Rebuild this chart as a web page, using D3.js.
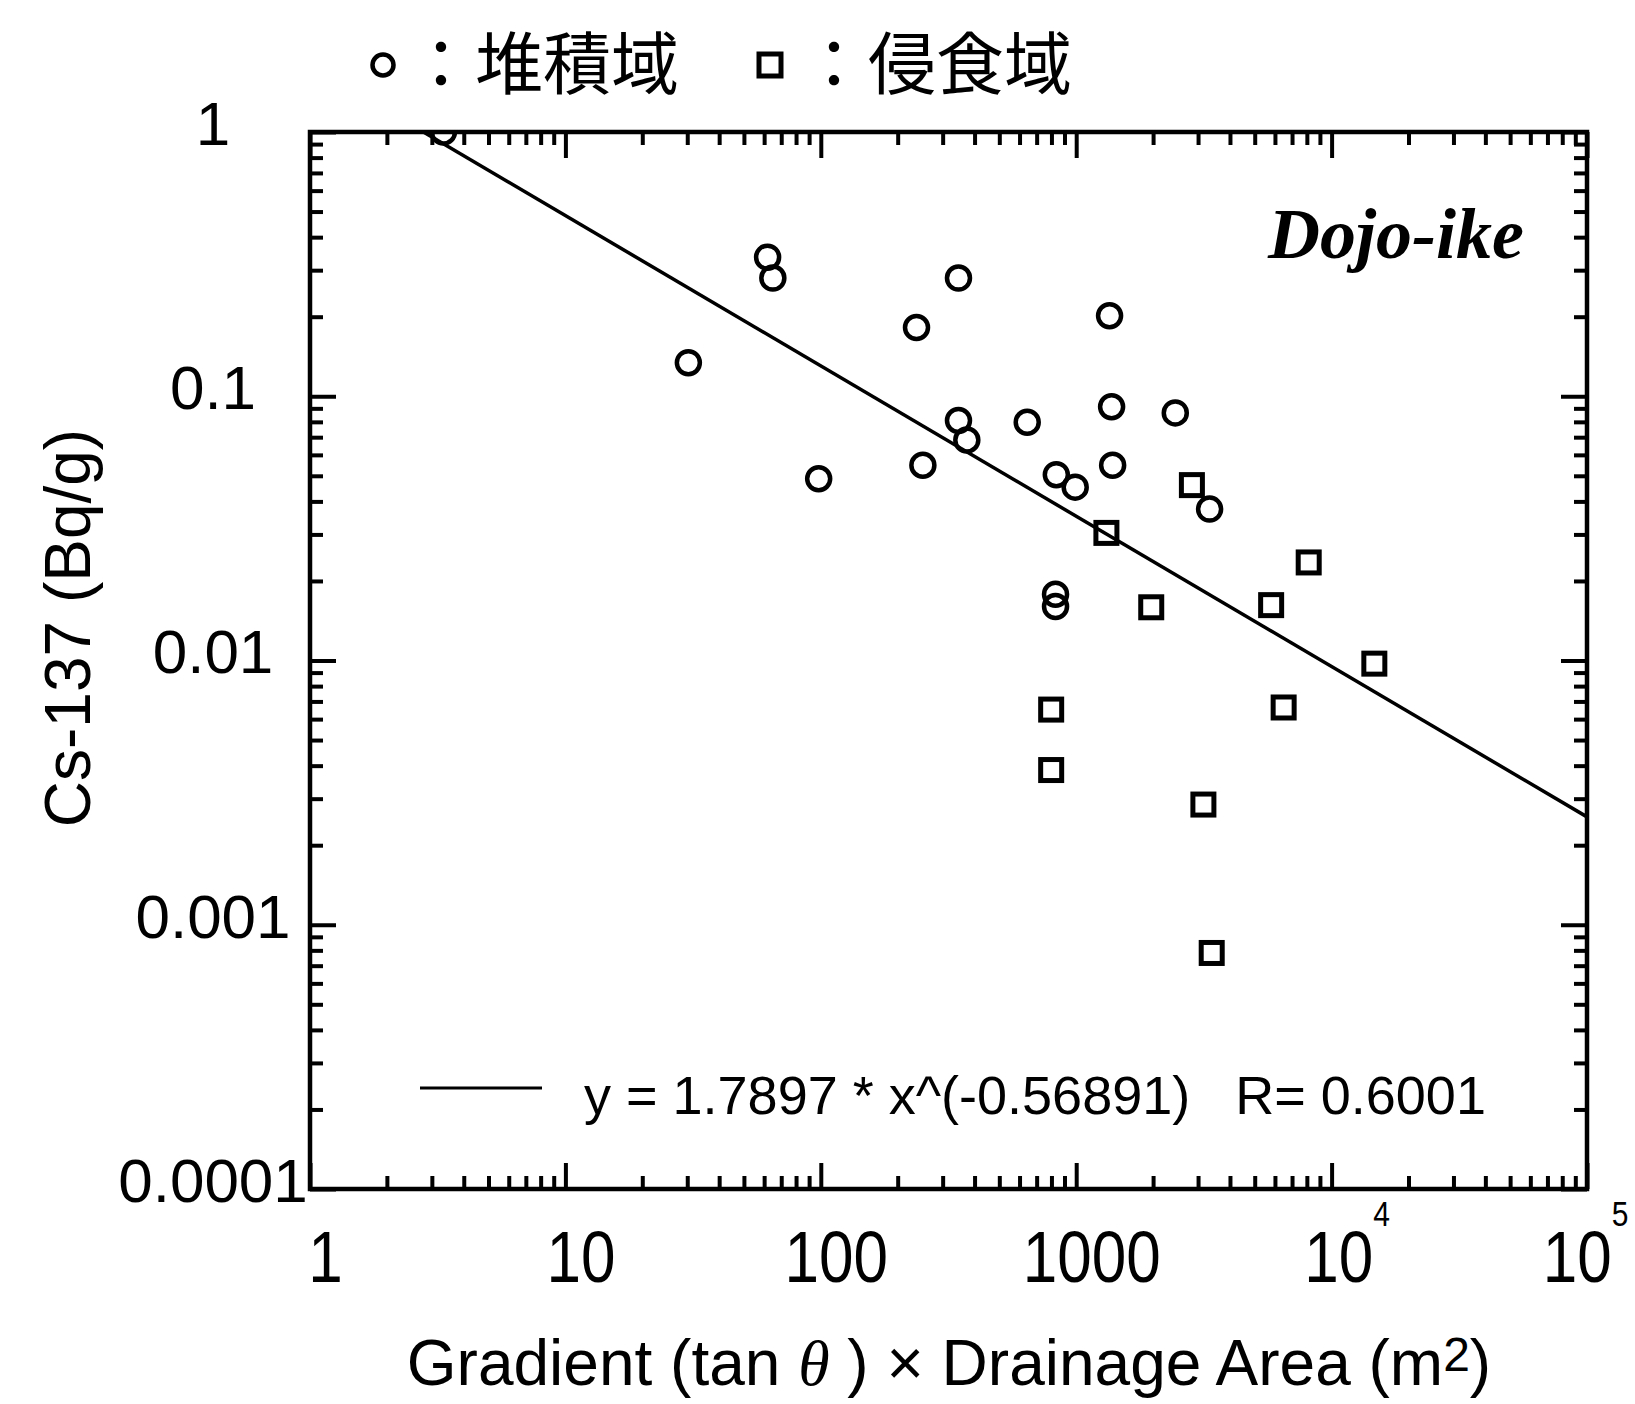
<!DOCTYPE html>
<html>
<head>
<meta charset="utf-8">
<script src="https://cdn.jsdelivr.net/npm/d3@7"></script>
<style>
  body { margin: 0; background: #fff; }
  svg { display: block; }
</style>
</head>
<body>
<div id="chart"></div>
<script>
// deposition sites (circles)
const depositX = [3.33, 30.3, 61.9, 64.9, 98.1, 237, 251, 346, 346, 373, 643, 836, 991, 1351, 1376, 1389, 2443, 3329, 830, 830];
const depositY = [1.0, 0.134, 0.336, 0.28, 0.0487, 0.182, 0.0548, 0.28, 0.081, 0.0683, 0.0797, 0.0505, 0.0453, 0.2016, 0.0913, 0.0548, 0.0865, 0.0374, 0.0178, 0.016];

// erosion sites (squares)
const erosionX = [1313, 2838, 1967, 8135, 5798, 14700, 798, 6490, 798, 3148, 3393];
const erosionY = [0.0304, 0.0461, 0.0159, 0.0235, 0.0162, 0.00973, 0.00652, 0.00664, 0.00385, 0.00285, 0.000782];

// regression line end points: y = 1.7897 * x^(-0.56891)
const fitX = [2.78, 100000];
const fitY = [1.0, 0.00256];

const xTickValues = [1, 10, 100, 1000, 10000, 100000];
const xTickLabels = ["1", "10", "100", "1000", "10^4", "10^5"];
const yTickValues = [0.0001, 0.001, 0.01, 0.1, 1];
const yTickLabels = ["0.0001", "0.001", "0.01", "0.1", "1"];

const legendLabels = ["：堆積域", "：侵食域"];
const fitLabel = "y = 1.7897 * x^(-0.56891)   R= 0.6001";
const siteLabel = "Dojo-ike";

const width = 1635;
const height = 1404;
const margin = { top: 132, right: 48, bottom: 215, left: 310 };
const sans = "'Liberation Sans', Arial, sans-serif";
const cjk = "'Noto Sans CJK JP', 'Noto Sans CJK SC', sans-serif";

const svg = d3.select("#chart")
  .append("svg")
  .attr("width", width)
  .attr("height", height)
  .style("background", "#fff");

const x = d3.scaleLog()
  .domain([1, 100000])
  .range([margin.left, width - margin.right]);

const y = d3.scaleLog()
  .domain([0.0001, 1])
  .range([height - margin.bottom, margin.top]);

const x0 = x.range()[0], x1 = x.range()[1];
const y0 = y.range()[1], y1 = y.range()[0];

svg.append("clipPath")
  .attr("id", "plot-clip")
  .append("rect")
  .attr("x", x0).attr("y", y0)
  .attr("width", x1 - x0).attr("height", y1 - y0);

// minor tick positions (2..9 in each decade)
const xMinor = x.ticks().filter(d => xTickValues.indexOf(d) < 0);
const yMinor = y.ticks().filter(d => !yTickValues.some(v => Math.abs(v - d) / d < 1e-6));

function styleTicks(g) {
  g.select(".domain").remove();
  g.selectAll(".tick line").attr("stroke", "#000").attr("stroke-width", 4);
}

const major = 26, minor = 13;

// bottom axis
svg.append("g")
  .attr("transform", `translate(0,${y1})`)
  .call(d3.axisBottom(x).tickValues(xMinor).tickSize(-minor).tickFormat(""))
  .call(styleTicks);

const xAxisG = svg.append("g")
  .attr("transform", `translate(0,${y1})`)
  .call(d3.axisBottom(x).tickValues(xTickValues).tickSize(-major).tickPadding(36).tickSizeOuter(0))
  .call(styleTicks);

xAxisG.selectAll(".tick text")
  .attr("font-family", sans)
  .attr("font-size", 62)
  .attr("fill", "#000")
  // last label sits at the page edge, keep it inside
  .attr("transform", (d, i) => `translate(${i === xTickValues.length - 1 ? -2 : 15},0) scale(1,1.16)`)
  .text(null)
  .each(function(d, i) {
    const parts = xTickLabels[i].split("^");
    const t = d3.select(this);
    t.append("tspan").text(parts[0]);
    if (parts[1]) {
      t.append("tspan")
        .attr("font-size", 30)
        .attr("dy", "-1.6em")
        .text(parts[1]);
    }
  });

// top axis
svg.append("g")
  .attr("transform", `translate(0,${y0})`)
  .call(d3.axisTop(x).tickValues(xMinor).tickSize(-minor).tickFormat(""))
  .call(styleTicks);
svg.append("g")
  .attr("transform", `translate(0,${y0})`)
  .call(d3.axisTop(x).tickValues(xTickValues).tickSize(-major).tickFormat(""))
  .call(styleTicks);

// left axis
svg.append("g")
  .attr("transform", `translate(${x0},0)`)
  .call(d3.axisLeft(y).tickValues(yMinor).tickSize(-minor).tickFormat(""))
  .call(styleTicks);

const yAxisG = svg.append("g")
  .attr("transform", `translate(${x0},0)`)
  .call(d3.axisLeft(y).tickValues(yTickValues).tickSize(-major)
    .tickFormat((d, i) => yTickLabels[i]))
  .call(styleTicks);

yAxisG.selectAll(".tick text")
  .attr("font-family", sans)
  .attr("font-size", 62)
  .attr("fill", "#000")
  .attr("text-anchor", "middle")
  .attr("x", -97)
  .attr("dy", "0.2em");

// right axis
svg.append("g")
  .attr("transform", `translate(${x1},0)`)
  .call(d3.axisRight(y).tickValues(yMinor).tickSize(-minor).tickFormat(""))
  .call(styleTicks);
svg.append("g")
  .attr("transform", `translate(${x1},0)`)
  .call(d3.axisRight(y).tickValues(yTickValues).tickSize(-major).tickFormat(""))
  .call(styleTicks);

// regression line
const fitLine = d3.line()
  .x(d => x(d[0]))
  .y(d => y(d[1]));

svg.append("path")
  .datum(fitX.map((v, i) => [v, fitY[i]]))
  .attr("d", fitLine)
  .attr("fill", "none")
  .attr("stroke", "#000")
  .attr("stroke-width", 3.5);

const marks = svg.append("g").attr("clip-path", "url(#plot-clip)");

marks.selectAll("circle.dep")
  .data(depositX.map((v, i) => [v, depositY[i]]))
  .join("circle")
  .attr("class", "dep")
  .attr("cx", d => x(d[0]))
  .attr("cy", d => y(d[1]))
  .attr("r", 11.5)
  .attr("fill", "none")
  .attr("stroke", "#000")
  .attr("stroke-width", 4.5);

const sq = 21;
marks.selectAll("rect.ero")
  .data(erosionX.map((v, i) => [v, erosionY[i]]))
  .join("rect")
  .attr("class", "ero")
  .attr("x", d => x(d[0]) - sq / 2)
  .attr("y", d => y(d[1]) - sq / 2)
  .attr("width", sq)
  .attr("height", sq)
  .attr("fill", "none")
  .attr("stroke", "#000")
  .attr("stroke-width", 5);

// frame
svg.append("rect")
  .attr("x", x0).attr("y", y0)
  .attr("width", x1 - x0).attr("height", y1 - y0)
  .attr("fill", "none")
  .attr("stroke", "#000")
  .attr("stroke-width", 4.5);

// fit legend inside plot
svg.append("line")
  .attr("x1", 420).attr("x2", 542)
  .attr("y1", 1088).attr("y2", 1088)
  .attr("stroke", "#000")
  .attr("stroke-width", 3);

svg.append("text")
  .attr("x", 584)
  .attr("y", 1114)
  .attr("font-family", sans)
  .attr("font-size", 54)
  .style("white-space", "pre")
  .text(fitLabel);

// site name
svg.append("text")
  .attr("x", 1524)
  .attr("y", 258)
  .attr("text-anchor", "end")
  .attr("font-family", "'Liberation Serif', 'Times New Roman', serif")
  .attr("font-weight", "bold")
  .attr("font-style", "italic")
  .attr("font-size", 72)
  .text(siteLabel);

// top legend
svg.append("circle")
  .attr("cx", 383).attr("cy", 65).attr("r", 10.5)
  .attr("fill", "none").attr("stroke", "#000").attr("stroke-width", 4.5);
svg.append("rect")
  .attr("x", 770 - 11).attr("y", 65 - 11).attr("width", 22).attr("height", 22)
  .attr("fill", "none").attr("stroke", "#000").attr("stroke-width", 5);

svg.selectAll("text.legend")
  .data(legendLabels)
  .join("text")
  .attr("class", "legend")
  .attr("x", (d, i) => i === 0 ? 407 : 800)
  .attr("y", 65)
  .attr("dy", "0.35em")
  .attr("font-family", cjk)
  .attr("font-size", 68)
  .text(d => d);

// axis titles
const xTitle = svg.append("text")
  .attr("x", 949)
  .attr("y", 1385)
  .attr("text-anchor", "middle")
  .attr("font-family", sans)
  .attr("font-size", 64)
  .style("white-space", "pre");
xTitle.append("tspan").text("Gradient (tan ");
xTitle.append("tspan").attr("font-style", "italic").attr("font-family", "'Liberation Serif', serif").text("θ");
xTitle.append("tspan").text(" ) × Drainage Area (m");
xTitle.append("tspan").attr("font-size", 48).attr("dy", -14).text("2");
xTitle.append("tspan").attr("dy", 14).text(")");

svg.append("text")
  .attr("transform", "translate(68,628) rotate(-90)")
  .attr("text-anchor", "middle")
  .attr("dy", "0.35em")
  .attr("font-family", sans)
  .attr("font-size", 64)
  .text("Cs-137 (Bq/g)");
</script>
</body>
</html>
